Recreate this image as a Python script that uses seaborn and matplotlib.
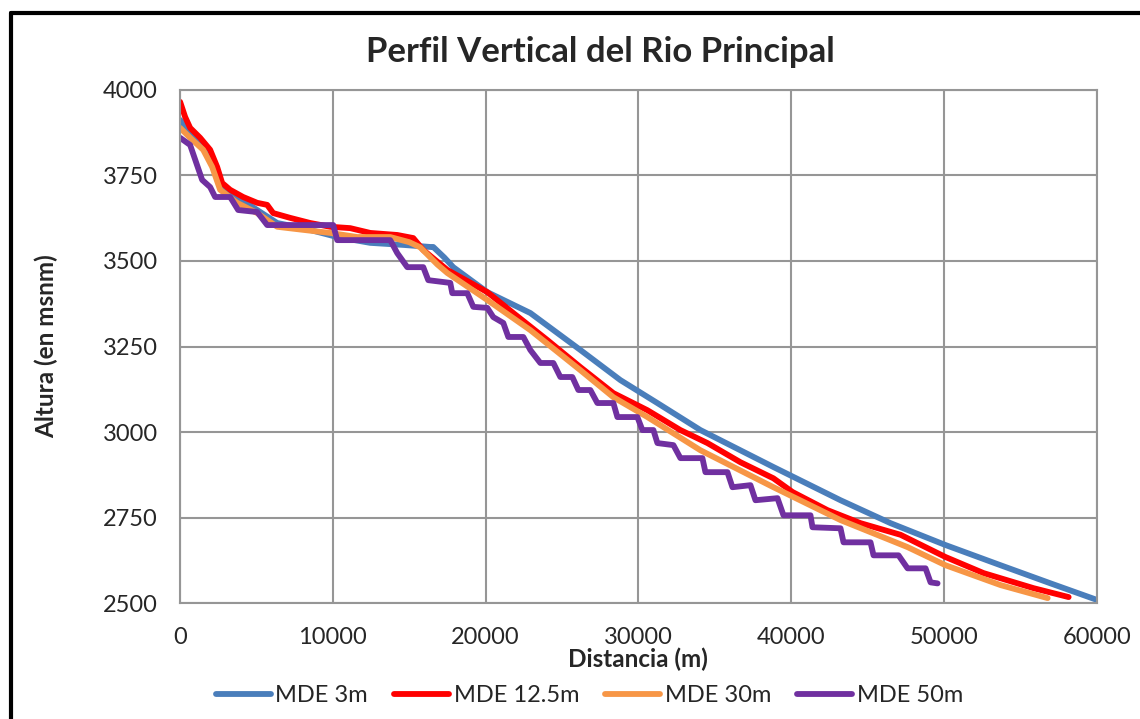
import matplotlib
matplotlib.use("Agg")
import matplotlib.pyplot as plt
from matplotlib.lines import Line2D
import numpy as np
import pandas as pd
import seaborn as sns

# values
x_3m = [0, 655, 1507, 2162, 2620, 3734, 5044, 6354, 8057, 10284, 12445, 14607,
        16375, 16570, 17300, 17880, 20110, 22925, 26200, 28820, 31240, 34060,
        38840, 43230, 46505, 50108, 53710, 56985, 60000]
y_3m = [3912, 3874, 3833, 3786, 3728, 3687, 3649, 3611, 3596, 3570, 3553, 3547,
        3541, 3541, 3510, 3482, 3409, 3348, 3240, 3152, 3085, 3006,
        2898, 2801, 2734, 2670, 2611, 2558, 2510]

x_12m = [0, 328, 655, 1310, 1965, 2424, 2751, 3275, 4127, 5044, 5699, 6092, 7205,
         8515, 9825, 11135, 12445, 14214, 15262, 15917, 17490, 20110, 21810,
         24040, 26200, 28360, 30590, 32750, 34520, 36680, 38840, 40090, 42380,
         44540, 47160, 50108, 52600, 55870, 58164]
y_12m = [3965, 3921, 3889, 3860, 3825, 3775, 3728, 3708, 3687, 3670, 3664, 3640, 3626,
         3611, 3600, 3596, 3582, 3576, 3567, 3532, 3474, 3409, 3348,
         3269, 3190, 3114, 3064, 3006, 2968, 2912, 2865, 2825, 2772,
         2734, 2700, 2635, 2588, 2544, 2518]

x_30m = [0, 655, 1507, 2096, 2620, 3734, 5044, 6354, 8057, 9825, 11594, 13755,
         15000, 15720, 16834, 17490, 20110, 22925, 26200, 28360, 30590, 34060,
         38840, 43230, 47620, 50108, 53710, 56790]
y_30m = [3889, 3860, 3825, 3775, 3708, 3670, 3640, 3600, 3591, 3582, 3570, 3570,
         3555, 3540, 3490, 3465, 3386, 3298, 3181, 3102, 3044, 2947,
         2839, 2743, 2664, 2611, 2553, 2515]

x_50m = [0, 655, 1441, 1965, 2293, 3275, 3799, 5044, 5699, 10022, 10284, 13755,
         14214, 14869, 15917, 16244, 17685, 17816, 18799, 19192, 20109, 20502,
         21157, 21484, 22467, 22925, 23580, 24432, 24890, 25676, 26069, 26855,
         27314, 28362, 28624, 29934, 30261, 30982, 31244, 32292, 32750, 34191,
         34388, 35829, 36156, 37335, 37663, 39104, 39497, 41265, 41396, 43230,
         43427, 45195, 45392, 47029, 47619, 48798, 49125, 49584]
y_50m = [3860, 3839, 3737, 3716, 3687, 3687, 3649, 3643, 3605, 3605, 3561, 3561,
         3523, 3482, 3482, 3444, 3436, 3406, 3406, 3366, 3363, 3336,
         3319, 3278, 3278, 3240, 3202, 3202, 3161, 3161, 3123, 3123,
         3085, 3085, 3044, 3044, 3006, 3006, 2968, 2962, 2924, 2924,
         2883, 2883, 2839, 2845, 2801, 2807, 2757, 2757, 2722, 2719,
         2678, 2678, 2640, 2640, 2602, 2602, 2561, 2558]

series = {
    "MDE 3m": (x_3m, y_3m),
    "MDE 12.5m": (x_12m, y_12m),
    "MDE 30m": (x_30m, y_30m),
    "MDE 50m": (x_50m, y_50m),
}
colors = ["#4A7EBB", "#FF0000", "#F79646", "#7030A0"]

df = pd.concat(
    [pd.DataFrame({"dist": xs, "alt": ys, "modelo": name})
     for name, (xs, ys) in series.items()],
    ignore_index=True,
)

sns.set_style("white")
plt.rcParams["font.family"] = ["Lato", "DejaVu Sans"]

fig = plt.figure(figsize=(11.4, 7.19), dpi=100)
ax = fig.add_axes([0.158, 0.161, 0.804, 0.714])

sns.lineplot(data=df, x="dist", y="alt", hue="modelo", palette=colors,
             estimator=None, sort=False, linewidth=4.2, ax=ax, legend=True)

ax.set_xlim(0, 60000)
ax.set_ylim(2500, 4000)
ax.set_xticks(np.arange(0, 60001, 10000))
ax.set_yticks(np.arange(2500, 4001, 250))
ax.grid(True, color="#969696", linewidth=1.5)
ax.set_axisbelow(True)
for s in ax.spines.values():
    s.set_color("#969696")
    s.set_linewidth(1.5)
ax.tick_params(axis="x", labelsize=17, length=0, pad=17)
ax.tick_params(axis="y", labelsize=17, length=0, pad=16)

# title is centred on the whole chart, not on the plot area
ax.set_title("Perfil Vertical del Rio Principal", fontsize=25, fontweight="bold",
             pad=20, x=0.458)
ax.set_xlabel("Distancia (m)", fontsize=17.5, fontweight="bold", labelpad=0)
ax.set_ylabel("Altura (en msnm)", fontsize=17.5, fontweight="bold")
ax.yaxis.set_label_coords(-0.133, 0.5)

handles, labels = ax.get_legend_handles_labels()
ax.get_legend().remove()
fig.legend(handles, labels, loc="lower center", bbox_to_anchor=(0.517, -0.012),
           ncol=4, frameon=False, fontsize=17, handlelength=2.33,
           handletextpad=0.2, columnspacing=1.1)

# black frame at the left and top edges
fig.add_artist(Line2D([0.0096, 0.0096], [0.0, 0.982], color="black", linewidth=3,
                      transform=fig.transFigure))
fig.add_artist(Line2D([0.0096, 1.0], [0.982, 0.982], color="black", linewidth=3,
                      transform=fig.transFigure))

fig.savefig("out.png", dpi=100)
